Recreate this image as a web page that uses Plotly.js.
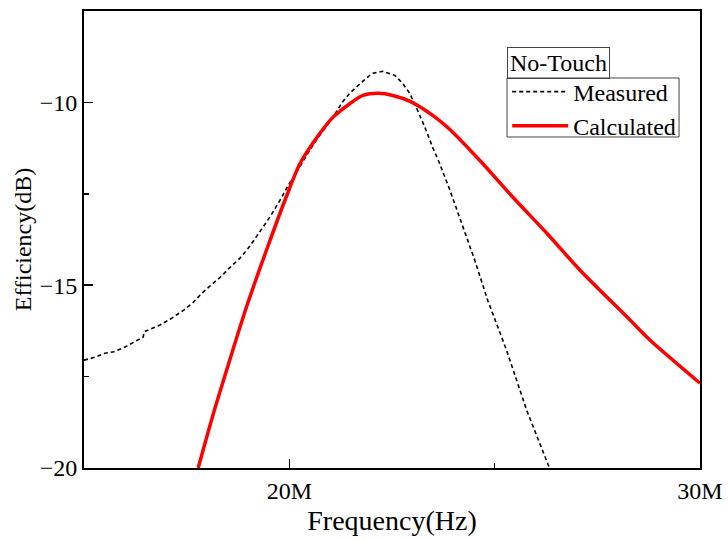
<!DOCTYPE html>
<html>
<head>
<meta charset="utf-8">
<script src="https://cdn.plot.ly/plotly-3.0.1.min.js"></script>
<style>html,body{margin:0;padding:0;background:#fff;}#chart{width:728px;height:541px;}</style>
</head>
<body>
<div id="chart"></div>
<script>
// Frequency in MHz, efficiency in dB
const measuredFreq = [15.00,15.27,15.51,15.73,16.00,16.24,16.44,16.47,16.85,17.14,17.43,17.65,17.87,18.09,18.31,18.55,18.80,19.04,19.28,19.53,19.77,20.01,20.26,20.50,20.74,21.06,21.30,21.47,21.76,22.01,22.27,22.57,22.76,22.93,23.10,23.30,23.49,23.66,23.91,24.15,24.51,24.83,25.29,25.78,26.34,26.58];
const measuredEff  = [-17.05,-16.97,-16.86,-16.82,-16.69,-16.55,-16.42,-16.27,-16.09,-15.90,-15.68,-15.48,-15.22,-15.00,-14.79,-14.52,-14.26,-13.93,-13.55,-13.13,-12.68,-12.20,-11.75,-11.30,-10.90,-10.41,-9.98,-9.75,-9.45,-9.21,-9.15,-9.26,-9.48,-9.75,-10.16,-10.68,-11.23,-11.67,-12.40,-13.15,-14.30,-15.41,-16.78,-18.42,-20.00,-20.70];

const calcFreq = [17.78,18.12,18.51,18.97,19.46,19.94,20.26,20.67,21.06,21.48,21.79,22.18,22.52,22.94,23.50,23.91,24.64,25.45,26.27,27.08,28.25,28.78,30.00];
const calcEff  = [-20.00,-18.63,-17.19,-15.55,-13.99,-12.54,-11.67,-10.96,-10.41,-10.03,-9.81,-9.75,-9.81,-9.97,-10.36,-10.74,-11.59,-12.60,-13.58,-14.59,-15.90,-16.50,-17.68];

const xTickVals = [20, 30];
const xTickText = ['20M', '30M'];
const yTickVals = [-20, -15, -10];
const legendTitle = 'No-Touch';

const FONT = 'Liberation Serif, Times New Roman, serif';

const traces = [
  {x: measuredFreq, y: measuredEff, name: 'Measured', mode: 'lines',
   line: {color: '#000', width: 1.6, dash: '4px,3px'}},
  {x: calcFreq, y: calcEff, name: 'Calculated', mode: 'lines',
   line: {color: '#ff0000', width: 3.5, shape: 'spline', smoothing: 0.8}}
];

const layout = {
  width: 728, height: 541,
  margin: {l: 84, r: 28, t: 11, b: 73},
  paper_bgcolor: '#fff', plot_bgcolor: '#fff',
  font: {family: FONT, color: '#000', size: 24},
  showlegend: true,
  legend: {x: 0.687, y: 0.872, xanchor: 'left', yanchor: 'top',
    borderwidth: 0, bgcolor: 'rgba(0,0,0,0)',
    font: {family: FONT, size: 24, color: '#000'}, tracegroupgap: 0,
    itemwidth: 56},
  shapes: [{type: 'rect', xref: 'paper', yref: 'paper',
    x0: 0.6867, x1: 0.966, y0: 0.7243, y1: 0.8534,
    line: {color: '#444', width: 1}, fillcolor: 'rgba(0,0,0,0)'}],
  annotations: [{xref: 'paper', yref: 'paper', x: 0.6867, y: 0.921,
    xanchor: 'left', yanchor: 'top', text: legendTitle, showarrow: false,
    bordercolor: '#444', borderwidth: 1, borderpad: 2,
    font: {family: FONT, size: 24, color: '#000'}}],
  xaxis: {range: [15, 30], tickmode: 'array', tickvals: xTickVals, ticktext: xTickText,
    ticks: 'inside', ticklen: 9, tickwidth: 1.5, tickcolor: '#000',
    minor: {dtick: 5, tick0: 0, ticks: 'inside', ticklen: 5, tickwidth: 1.5, tickcolor: '#000'},
    showline: true, linecolor: '#000', linewidth: 2, mirror: true,
    showgrid: false, zeroline: false,
    tickfont: {family: FONT, size: 24, color: '#000'},
    title: {text: 'Frequency(Hz)', font: {family: FONT, size: 28, color: '#000'}, standoff: 8}},
  yaxis: {range: [-20, -7.5], tickmode: 'array', tickvals: yTickVals,
    ticks: 'inside', ticklen: 9, tickwidth: 1.5, tickcolor: '#000',
    minor: {dtick: 2.5, tick0: 0, ticks: 'inside', ticklen: 5, tickwidth: 1.5, tickcolor: '#000'},
    showline: true, linecolor: '#000', linewidth: 2, mirror: true,
    showgrid: false, zeroline: false,
    tickfont: {family: FONT, size: 24, color: '#000'},
    title: {text: 'Efficiency(dB)', font: {family: FONT, size: 24, color: '#000'}, standoff: 1}}
};

Plotly.newPlot('chart', traces, layout, {displayModeBar: false, staticPlot: true});
</script>
</body>
</html>
